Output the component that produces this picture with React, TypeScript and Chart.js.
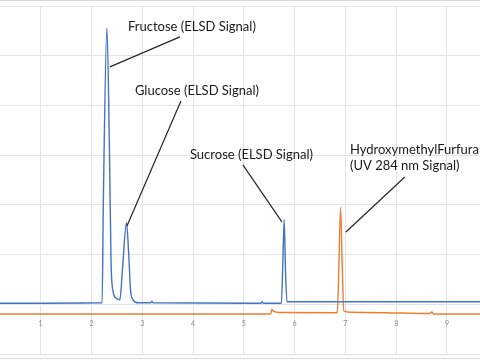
import React, { useEffect, useRef } from "react";
import { Chart, registerables } from "chart.js";

Chart.register(...registerables);

// Retention time (min) and detector response for the ELSD trace (blue)
const elsdTime = [
  0.2, 2.21, 2.235, 2.305, 2.355, 2.385, 2.42, 2.5, 2.56, 2.61, 2.69, 2.73, 2.77, 2.82, 2.915,
  3.17, 3.19, 3.21, 5.34, 5.36, 5.38, 5.74, 5.77, 5.795, 5.82, 5.85, 5.91, 9.65,
];
const elsdSignal = [
  1.02, 1.03, 3.1, 6.56, 4.1, 1.9, 1.29, 1.11, 1.09, 1.69, 2.64, 2.09, 1.29, 1.09, 1.03,
  1.03, 1.06, 1.03, 1.02, 1.05, 1.02, 1.02, 1.9, 2.7, 1.69, 1.05, 1.05, 1.05,
];

// Retention time (min) and response for the UV 284 nm trace (orange)
const uvTime = [
  0.2, 5.53, 5.55, 5.59, 5.71, 6.84, 6.87, 6.905, 6.94, 6.97, 7.09, 8.07, 8.66, 8.7, 8.74, 9.65,
];
const uvSignal = [
  0.805, 0.805, 0.895, 0.855, 0.835, 0.83, 1.69, 2.95, 1.69, 0.865, 0.84, 0.825, 0.815, 0.845,
  0.805, 0.805,
];

const xTickValues = [1, 2, 3, 4, 5, 6, 7, 8, 9];

// Peak labels: text lines, text anchor and leader line (in data units)
const labelTexts = [
  ["Fructose (ELSD Signal)"],
  ["Glucose (ELSD Signal)"],
  ["Sucrose (ELSD Signal)"],
  ["HydroxymethylFurfural", "(UV 284 nm Signal)"],
];
const labelAnchorX = [2.72, 2.856, 3.939, 7.09];
const labelAnchorY = [6.58, 5.29, 4.004, 4.105];
const leaderFrom = [
  [2.364, 5.775],
  [2.699, 2.575],
  [5.75, 2.656],
  [7.01, 2.455],
];
const leaderTo = [
  [3.742, 6.378],
  [3.762, 5.09],
  [4.982, 3.803],
  [8.17, 3.561],
];

const annotationPlugin = {
  id: "peakLabels",
  afterDatasetsDraw(chart: any) {
    const { ctx, scales } = chart;
    const xs = scales.x;
    const ys = scales.y;
    ctx.save();
    ctx.strokeStyle = "#262626";
    ctx.lineWidth = 1.2;
    for (let i = 0; i < labelTexts.length; i++) {
      ctx.beginPath();
      ctx.moveTo(xs.getPixelForValue(leaderFrom[i][0]), ys.getPixelForValue(leaderFrom[i][1]));
      ctx.lineTo(xs.getPixelForValue(leaderTo[i][0]), ys.getPixelForValue(leaderTo[i][1]));
      ctx.stroke();
    }
    ctx.fillStyle = "#1a1a1a";
    ctx.font = "13px Lato";
    ctx.textBaseline = "middle";
    ctx.textAlign = "left";
    for (let i = 0; i < labelTexts.length; i++) {
      const x = xs.getPixelForValue(labelAnchorX[i]);
      const y = ys.getPixelForValue(labelAnchorY[i]);
      labelTexts[i].forEach((t, j) => ctx.fillText(t, x, y + j * 16));
    }
    ctx.restore();
  },
};

const framePlugin = {
  id: "frame",
  beforeDraw(chart: any) {
    const { ctx, width, height } = chart;
    ctx.save();
    ctx.fillStyle = "#ffffff";
    ctx.fillRect(0, 0, width, height);
    ctx.strokeStyle = "#d9d9d9";
    ctx.lineWidth = 1;
    ctx.beginPath();
    ctx.moveTo(0, 0.5);
    ctx.lineTo(width, 0.5);
    ctx.moveTo(0, height - 1.5);
    ctx.lineTo(width, height - 1.5);
    ctx.stroke();
    ctx.restore();
  },
};

export default function App() {
  const ref = useRef<HTMLCanvasElement | null>(null);

  useEffect(() => {
    if (!ref.current) return;
    const chart = new Chart(ref.current, {
      type: "line",
      data: {
        datasets: [
          {
            label: "ELSD Signal",
            data: elsdTime.map((t, i) => ({ x: t, y: elsdSignal[i] })),
            borderColor: "#4472C4",
            borderWidth: 1.4,
            pointRadius: 0,
            cubicInterpolationMode: "monotone",
            fill: false,
          },
          {
            label: "UV 284 nm Signal",
            data: uvTime.map((t, i) => ({ x: t, y: uvSignal[i] })),
            borderColor: "#ED7D31",
            borderWidth: 1.4,
            pointRadius: 0,
            cubicInterpolationMode: "monotone",
            fill: false,
          },
        ],
      },
      options: {
        animation: false,
        responsive: false,
        maintainAspectRatio: false,
        layout: { padding: { top: 6, bottom: 6, left: 0, right: 0 } },
        plugins: { legend: { display: false }, tooltip: { enabled: false } },
        scales: {
          x: {
            type: "linear",
            position: { y: 1 } as any,
            min: 0.2,
            max: 9.65,
            afterBuildTicks: (axis: any) => {
              axis.ticks = xTickValues.map((v) => ({ value: v }));
            },
            grid: { color: "#e3e3e3", drawTicks: false },
            border: { display: false },
            ticks: {
              color: "#8c8c8c",
              font: { size: 7, family: "Lato" },
              padding: 15,
              maxRotation: 0,
            },
          },
          y: {
            type: "linear",
            min: 0,
            max: 7,
            afterBuildTicks: (axis: any) => {
              axis.ticks = [0, 1, 2, 3, 4, 5, 6, 7].map((v) => ({ value: v }));
            },
            grid: { color: "#e3e3e3", drawTicks: false },
            border: { display: false },
            ticks: { display: false },
          },
        },
      },
      plugins: [framePlugin, annotationPlugin],
    });
    return () => chart.destroy();
  }, []);

  return (
    <div style={{ position: "fixed", left: 0, top: 0, width: 480, height: 360 }}>
      <canvas ref={ref} width={480} height={360} style={{ width: 480, height: 360 }} />
    </div>
  );
}
